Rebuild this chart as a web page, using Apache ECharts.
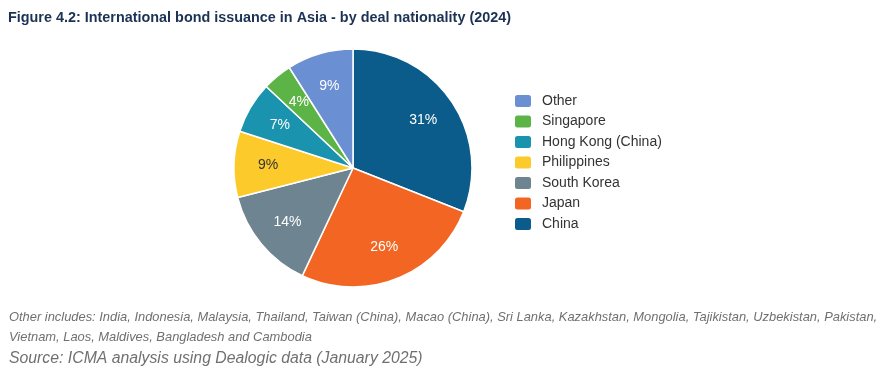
<!DOCTYPE html>
<html><head><meta charset="utf-8">
<script src="https://cdn.jsdelivr.net/npm/echarts@6/dist/echarts.min.js"></script>
<style>html,body{margin:0;padding:0;background:#fff}#c{width:888px;height:383px}</style>
</head><body><div id="c"></div>
<script>
const categories = ['China', 'Japan', 'South Korea', 'Philippines', 'Hong Kong (China)', 'Singapore', 'Other'];
const shares = [31, 26, 14, 9, 7, 4, 9];
const legendOrder = ['Other', 'Singapore', 'Hong Kong (China)', 'Philippines', 'South Korea', 'Japan', 'China'];
const colors = ['#0b5c8a', '#f26522', '#6e8591', '#fdca2c', '#1a93ae', '#5cb446', '#6a8fd2'];
const labelColors = ['#ffffff', '#ffffff', '#ffffff', '#333333', '#ffffff', '#ffffff', '#ffffff'];
const titleText = 'Figure 4.2: International bond issuance in Asia - by deal nationality (2024)';
const note1 = 'Other includes: India, Indonesia, Malaysia, Thailand, Taiwan (China), Macao (China), Sri Lanka, Kazakhstan, Mongolia, Tajikistan, Uzbekistan, Pakistan,';
const note2 = 'Vietnam, Laos, Maldives, Bangladesh and Cambodia';
const sourceText = 'Source: ICMA analysis using Dealogic data (January 2025)';

const noteStyle = {fontFamily: 'Liberation Sans', fontSize: 12.9, fontStyle: 'italic', fontWeight: 'normal', color: '#707070'};
const chart = echarts.init(document.getElementById('c'));
chart.setOption({
  animation: false,
  title: [
    {text: titleText, left: 8, top: 11, padding: 0, textStyle: {fontFamily: 'Liberation Sans', fontSize: 14.4, fontWeight: 'bold', color: '#1b3254'}},
    {text: note1, left: 9, top: 311, padding: 0, textStyle: noteStyle},
    {text: note2, left: 9, top: 331, padding: 0, textStyle: noteStyle},
    {text: sourceText, left: 9, top: 351, padding: 0, textStyle: {fontFamily: 'Liberation Sans', fontSize: 15.8, fontStyle: 'italic', fontWeight: 'normal', color: '#707070'}}
  ],
  legend: {
    orient: 'vertical', left: 513, top: 93, padding: 0, itemWidth: 18, itemHeight: 14, itemGap: 4.5,
    data: legendOrder,
    textStyle: {fontFamily: 'Liberation Sans', fontSize: 14, color: '#333', padding: [0, 0, 0, 5]}
  },
  series: [{
    type: 'pie', center: [353, 168], radius: 119, startAngle: 90, clockwise: true,
    itemStyle: {borderColor: '#fff', borderWidth: 1.5},
    label: {show: false},
    labelLine: {show: false},
    data: categories.map((n, i) => ({name: n, value: shares[i], itemStyle: {color: colors[i]}}))
  }, {
    type: 'pie', center: [353, 168], radius: [45, 119], startAngle: 90, clockwise: true, silent: true,
    itemStyle: {color: 'rgba(0,0,0,0)', borderWidth: 0},
    label: {position: 'inside', formatter: '{c}%', fontFamily: 'Liberation Sans', fontSize: 14},
    labelLine: {show: false},
    data: categories.map((n, i) => ({name: n, value: shares[i], label: {color: labelColors[i]}}))
  }]
});
</script></body></html>
